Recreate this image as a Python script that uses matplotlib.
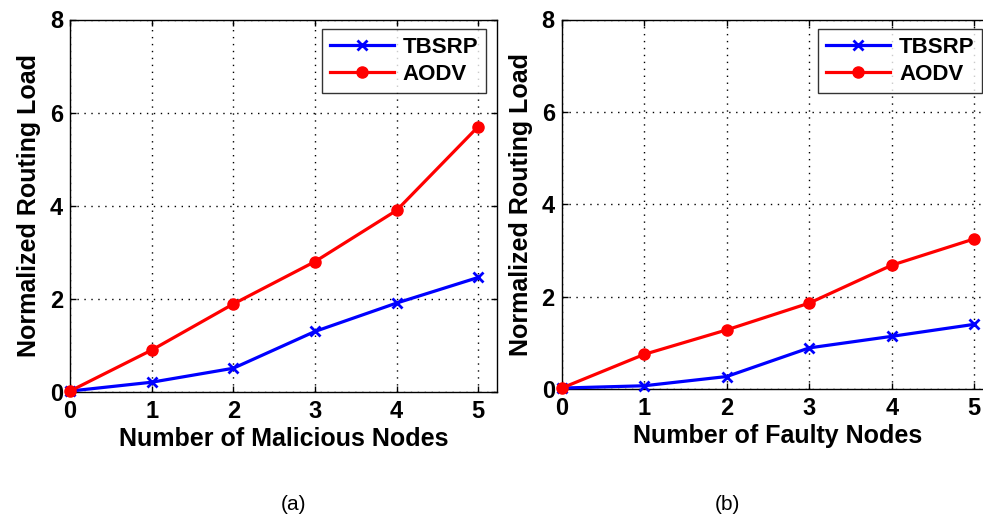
import matplotlib
matplotlib.use("Agg")
import matplotlib.pyplot as plt

plt.rcParams['font.family'] = ['Liberation Sans', 'DejaVu Sans']

x_nodes = [0, 1, 2, 3, 4, 5]
tbsrp_malicious = [0.02, 0.21, 0.51, 1.30, 1.91, 2.46]
aodv_malicious = [0.02, 0.90, 1.89, 2.80, 3.90, 5.70]
tbsrp_faulty = [0.02, 0.07, 0.27, 0.89, 1.14, 1.40]
aodv_faulty = [0.02, 0.75, 1.28, 1.86, 2.68, 3.25]
x_ticks = [0, 1, 2, 3, 4, 5]
y_ticks = [0, 2, 4, 6, 8]
xlabels = ["Number of Malicious Nodes", "Number of Faulty Nodes"]
ylabel = "Normalized Routing Load"
captions = ["(a)", "(b)"]
series_names = ["TBSRP", "AODV"]

W, H = 983, 520
fig = plt.figure(figsize=(W / 100, H / 100), dpi=100)

def px_axes(x0, y_top, x1, y_bot):
    return [x0 / W, 1 - y_bot / H, (x1 - x0) / W, (y_bot - y_top) / H]

ax1 = fig.add_axes(px_axes(70, 19.5, 497, 392))
ax2 = fig.add_axes(px_axes(561.7, 19.5, 561.7 + 431.5, 389))

data = [(tbsrp_malicious, aodv_malicious), (tbsrp_faulty, aodv_faulty)]

for ax, (tb, ao), xl in zip([ax1, ax2], data, xlabels):
    ax.plot(x_nodes, tb, color='#0000ff', lw=2.3, marker='x', ms=7, mew=2,
            label=series_names[0], clip_on=False, zorder=3)
    ax.plot(x_nodes, ao, color='#ff0000', lw=2.3, marker='o', ms=8,
            label=series_names[1], clip_on=False, zorder=4)
    ax.set_xlim(0, 5.23)
    ax.set_ylim(0, 8)
    ax.set_xticks(x_ticks)
    ax.set_yticks(y_ticks)
    ax.grid(True, color='black', linestyle=(0, (1, 4)), linewidth=1.0)
    ax.tick_params(direction='in', top=True, right=True, length=4, width=1,
                   labelsize=17)
    ax.tick_params(axis='x', pad=6)
    ax.tick_params(axis='y', pad=5)
    for lab in ax.get_xticklabels() + ax.get_yticklabels():
        lab.set_fontweight('bold')
    for sp in ax.spines.values():
        sp.set_linewidth(1.0)
    ax.set_xlabel(xl, fontsize=18, fontweight='bold', labelpad=3)
    ax.set_ylabel(ylabel, fontsize=18, fontweight='bold', labelpad=6)
    leg = ax.legend(loc='upper right', bbox_to_anchor=(0.975, 0.975),
                    prop={'weight': 'bold', 'size': 16},
                    frameon=True, fancybox=False, edgecolor='black',
                    handlelength=2.9, borderpad=0.35, labelspacing=0.3,
                    handletextpad=0.4, borderaxespad=0)
    leg.get_frame().set_linewidth(1.0)

fig.text(293 / W, 1 - 504 / H, captions[0], fontsize=15, ha='center', va='center')
fig.text(727 / W, 1 - 504 / H, captions[1], fontsize=15, ha='center', va='center')

fig.savefig("out.png", dpi=100)
